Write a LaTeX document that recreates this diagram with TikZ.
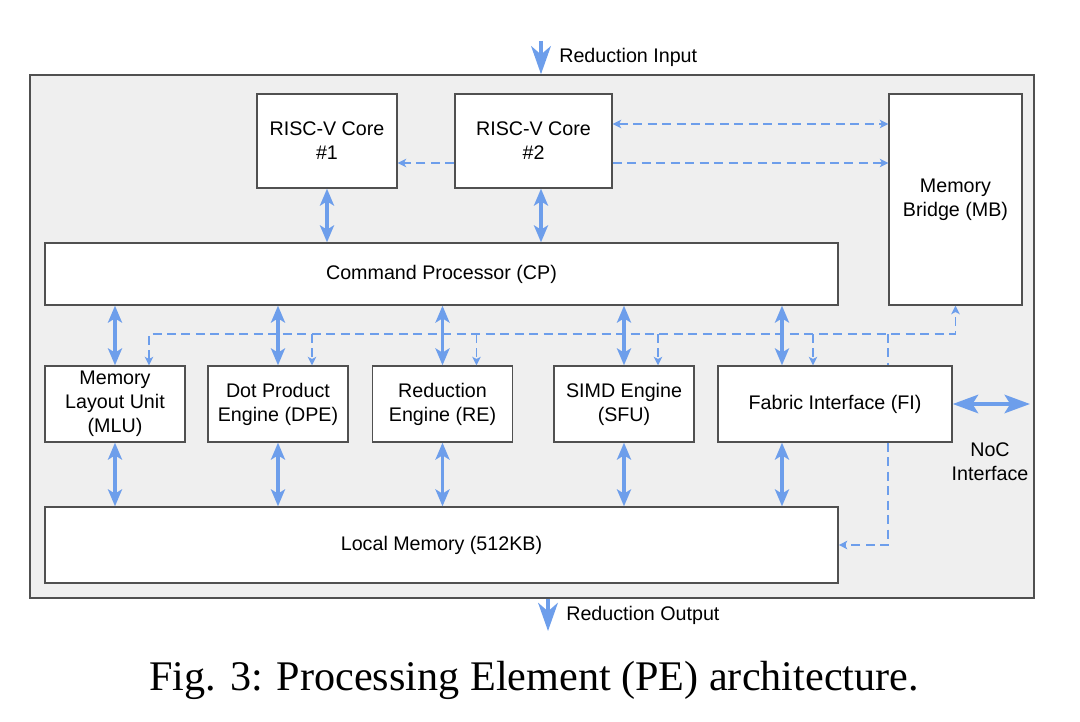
\documentclass[tikz,border=0pt]{standalone}
\usepackage{fontspec}
\setmainfont{Liberation Sans}
\newfontfamily\captionserif{Liberation Serif}
\usetikzlibrary{arrows.meta}
\definecolor{linkblue}{HTML}{6D9EEB}
\definecolor{pegray}{HTML}{EFEFEF}
\definecolor{edgegray}{HTML}{505050}

\begin{document}
\begin{tikzpicture}[x=0.025cm,y=-0.025cm,
  dtip/.tip={Stealth[length=6pt,width=6pt,inset=1.5pt]},
  btip/.tip={Stealth[length=12pt,width=10pt,inset=3pt]},
  box/.style={draw=edgegray,line width=1pt,fill=white,align=center,inner sep=2pt,
    font=\fontsize{14}{17}\selectfont},
  lbl/.style={font=\fontsize{14}{17}\selectfont,inner sep=0pt,align=center},
  dbl/.style={linkblue,line width=2.3pt,btip-btip},
  dsh/.style={linkblue,line width=1.2pt,dash pattern=on 6.4pt off 3.9pt},
  wide/.style={linkblue,line width=3pt,{Stealth[length=18pt,width=13pt,inset=4pt]}-{Stealth[length=18pt,width=13pt,inset=4pt]}},
  io/.style={linkblue,line width=2.5pt,-{Stealth[length=20pt,width=14pt,inset=6pt]}}]
  \useasboundingbox (0,0) rectangle (1080,722);

  % PE frame
  \node[draw=edgegray,fill=pegray,line width=1pt,inner sep=0pt,
    minimum width=25.1cm,minimum height=13.075cm] (pe) at (532,336.5) {};

  % top row
  \node[box,minimum width=3.5cm,minimum height=2.35cm] (core1) at (327,141) {RISC-V Core\\\#1};
  \node[box,minimum width=3.925cm,minimum height=2.35cm] (core2) at (533.5,141) {RISC-V Core\\\#2};
  \node[box,minimum width=3.325cm,minimum height=5.275cm] (mb) at (955.5,199.5) {Memory\\Bridge (MB)};
  \node[box,minimum width=19.825cm,minimum height=1.55cm] (cp) at (441.5,274) {Command Processor (CP)};

  % engines
  \node[box,minimum width=3.5cm,minimum height=1.9cm] (mlu) at (115,404) {Memory\\Layout Unit\\(MLU)};
  \node[box,minimum width=3.5cm,minimum height=1.9cm] (dpe) at (278,404) {Dot Product\\Engine (DPE)};
  \node[box,minimum width=3.5cm,minimum height=1.9cm] (re) at (442.5,404) {Reduction\\Engine (RE)};
  \node[box,minimum width=3.5cm,minimum height=1.9cm] (sfu) at (624,404) {SIMD Engine\\(SFU)};
  \node[box,minimum width=5.85cm,minimum height=1.9cm] (fi) at (835,404) {Fabric Interface (FI)};
  \node[box,minimum width=19.825cm,minimum height=1.9cm] (lm) at (441.5,545) {Local Memory (512KB)};

  \coordinate (rin) at (541,41);
  \coordinate (rout) at (548,631);
  \coordinate (fiarr) at (782,0);
  \coordinate (bus) at (0,334);
  \coordinate (hi) at (0,124);
  \coordinate (lo) at (0,163);
  \coordinate (noc) at (1030,404);
  \foreach \b in {mlu,dpe,re,sfu}
    \coordinate (tap-\b) at ([xshift=0.85cm]\b.north);
  \coordinate (tap-fi) at ([xshift=-0.55cm]fi.north);

  % data paths
  \draw[dbl] (core1.south) -- (cp.north -| core1.south);
  \draw[dbl] (core2.south -| rin) -- (cp.north -| rin);
  \foreach \b in {mlu,dpe,re,sfu} {
    \draw[dbl] (cp.south -| \b.north) -- (\b.north);
    \draw[dbl] (\b.south) -- (lm.north -| \b.south);
  }
  \draw[dbl] (cp.south -| fiarr) -- (fi.north -| fiarr);
  \draw[dbl] (fi.south -| fiarr) -- (lm.north -| fiarr);

  % control paths
  \draw[dsh,dtip-dtip] (tap-mlu) -- (tap-mlu |- bus) -- (mb.south |- bus) -- (mb.south);
  \foreach \b in {dpe,re,sfu,fi}
    \draw[dsh,-dtip] (tap-\b |- bus) -- (tap-\b);
  \draw[dsh] (mb.west |- bus) -- (mb.west |- fi.north);
  \draw[dsh,-dtip] (mb.west |- fi.south) |- (lm.east);
  \draw[dsh,-dtip] (core2.west |- lo) -- (core1.east |- lo);
  \draw[dsh,dtip-dtip] (core2.east |- hi) -- (mb.west |- hi);
  \draw[dsh,-dtip] (core2.east |- lo) -- (mb.west |- lo);

  % external ports
  \draw[wide] (fi.east) -- (noc);
  \node[lbl] (noclbl) at (990,462) {NoC\\Interface};
  \draw[io] (rin) -- (rin |- pe.north);
  \node[lbl,anchor=west] (inlbl) at (559,57) {Reduction Input};
  \draw[io] (rout |- pe.south) -- (rout);
  \node[lbl,anchor=west] (outlbl) at (566,615) {Reduction Output};

  \node[font=\captionserif\fontsize{30}{36}\selectfont,anchor=base,inner sep=0pt] (caption)
    at (534,690) {Fig. 3: Processing Element (PE) architecture.};
\end{tikzpicture}
\end{document}
